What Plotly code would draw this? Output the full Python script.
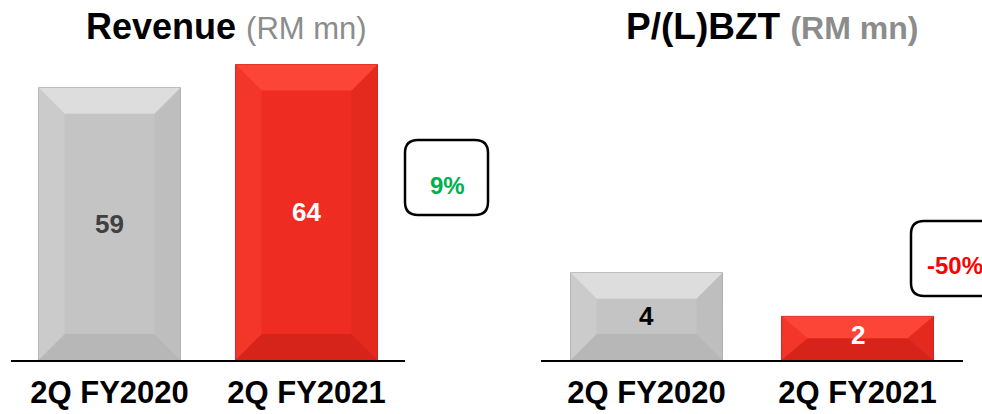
import plotly.graph_objects as go

# ---- data ----
categories = ["2Q FY2020", "2Q FY2021"]
revenue = [59, 64]
pbzt = [4, 2]
revenue_change = "9%"
pbzt_change = "-50%"

W, H = 982, 414
fig = go.Figure()

gray = dict(face="#C4C4C4", top="#DDDDDD", left="#CBCBCB", right="#BEBEBE", bottom="#B7B7B7", line="#A4A4A4")
red = dict(face="#EE2C22", top="#FC4536", left="#F3352A", right="#E4291F", bottom="#D7241B", line="#BE1E18")

FONT = "Liberation Sans, Arial, sans-serif"
BAR_W = 0.72
plot_h = 360          # px from zero line to top of plot
ydom = [(H - plot_h) / H, 1.0]
left_top = 78.0
right_top = 16.5
left_px_per_x = 394 / 2
right_px_per_x = 422 / 2


def add_bars(values, xa, ya, ytop, px_per_x, pal_list, value_colors):
    unit_per_px = ytop / plot_h
    xs = list(range(len(categories)))
    for i, v in zip(xs, values):
        p = pal_list[i]
        fig.add_trace(go.Bar(x=[i], y=[v], width=BAR_W, xaxis=xa, yaxis=ya,
                             marker=dict(color=p["face"], line=dict(color=p["line"], width=1)),
                             showlegend=False, hoverinfo="skip"))
        bar_px = v / unit_per_px
        bpx = min(26, bar_px / 2)
        by = bpx * unit_per_px
        bx = 26 / px_per_x
        x0, x1 = i - BAR_W / 2, i + BAR_W / 2
        polys = {
            "bottom": ([x0, x1, x1 - bx, x0 + bx], [0, 0, by, by]),
            "left": ([x0, x0, x0 + bx, x0 + bx], [0, v, v - by, by]),
            "right": ([x1, x1, x1 - bx, x1 - bx], [0, v, v - by, by]),
            "top": ([x0, x1, x1 - bx, x0 + bx], [v, v, v - by, v - by]),
        }
        for key, (px_, py_) in polys.items():
            fig.add_trace(go.Scatter(x=px_ + [px_[0]], y=py_ + [py_[0]], xaxis=xa, yaxis=ya,
                                     mode="lines", fill="toself", fillcolor=p[key],
                                     line=dict(width=0), showlegend=False, hoverinfo="skip"))
        fig.add_annotation(x=i, y=v / 2, xref=xa, yref=ya, text=f"<b>{v}</b>", showarrow=False,
                           xanchor="center", yanchor="middle", yshift=3 if v < 3 else 0,
                           font=dict(size=26, color=value_colors[i], family=FONT))


add_bars(revenue, "x", "y", left_top, left_px_per_x, [gray, red], ["#404040", "#FFFFFF"])
add_bars(pbzt, "x2", "y2", right_top, right_px_per_x, [gray, red], ["#000000", "#FFFFFF"])

xaxis_common = dict(range=[-0.5, 1.5], tickvals=[0, 1], ticktext=[f"<b>{c}</b>" for c in categories],
                    showgrid=False, zeroline=False, showline=True, linecolor="black", linewidth=1.5,
                    ticks="", tickfont=dict(size=31, color="black", family=FONT), ticklabelstandoff=4,
                    fixedrange=True)

fig.update_layout(
    width=W, height=H,
    margin=dict(l=0, r=0, t=0, b=0),
    paper_bgcolor="white", plot_bgcolor="white",
    barmode="overlay",
    font=dict(family=FONT, color="black"),
    xaxis=dict(domain=[11 / W, 405 / W], anchor="y", **xaxis_common),
    yaxis=dict(domain=ydom, range=[0, left_top], visible=False, anchor="x", fixedrange=True),
    xaxis2=dict(domain=[541 / W, 963 / W], anchor="y2", **xaxis_common),
    yaxis2=dict(domain=ydom, range=[0, right_top], visible=False, anchor="x2", fixedrange=True),
)


def px(x):
    return x / W


def py(y):
    return 1 - y / H


# titles
fig.add_annotation(x=px(226), y=py(26), xref="paper", yref="paper", showarrow=False,
                   text="<b>Revenue</b> <span style='color:#8C8C8C;font-size:31px'>(RM mn)</span>",
                   font=dict(size=36, color="black", family=FONT), xanchor="center", yanchor="middle")
fig.add_annotation(x=px(772), y=py(26), xref="paper", yref="paper", showarrow=False,
                   text="<b>P/(L)BZT <span style='color:#8C8C8C;font-size:32px'>(RM mn)</span></b>",
                   font=dict(size=37, color="black", family=FONT), xanchor="center", yanchor="middle")


def rounded_box(x0, y0, x1, y1, r):
    X0, X1 = px(x0), px(x1)
    Y0, Y1 = py(y0), py(y1)
    rx, ry = r / W, r / H
    path = (f"M {X0+rx},{Y0} L {X1-rx},{Y0} Q {X1},{Y0} {X1},{Y0-ry} "
            f"L {X1},{Y1+ry} Q {X1},{Y1} {X1-rx},{Y1} L {X0+rx},{Y1} Q {X0},{Y1} {X0},{Y1+ry} "
            f"L {X0},{Y0-ry} Q {X0},{Y0} {X0+rx},{Y0} Z")
    fig.add_shape(type="path", path=path, xref="paper", yref="paper",
                  line=dict(color="black", width=2.5), fillcolor="white")


rounded_box(405, 140, 488, 215, 13)
rounded_box(911, 221, 1000, 296, 13)

fig.add_annotation(x=px(447), y=py(185), xref="paper", yref="paper", showarrow=False,
                   xanchor="center", yanchor="middle",
                   text=f"<b>{revenue_change}</b>", font=dict(size=24, color="#00B050", family=FONT))
fig.add_annotation(x=px(955), y=py(265), xref="paper", yref="paper", showarrow=False,
                   xanchor="center", yanchor="middle",
                   text=f"<b>{pbzt_change}</b>", font=dict(size=24, color="#FF0000", family=FONT))

fig.write_html("out.html", config={"displayModeBar": False},
               post_script="document.body.style.margin='0';document.body.style.overflow='hidden';")
